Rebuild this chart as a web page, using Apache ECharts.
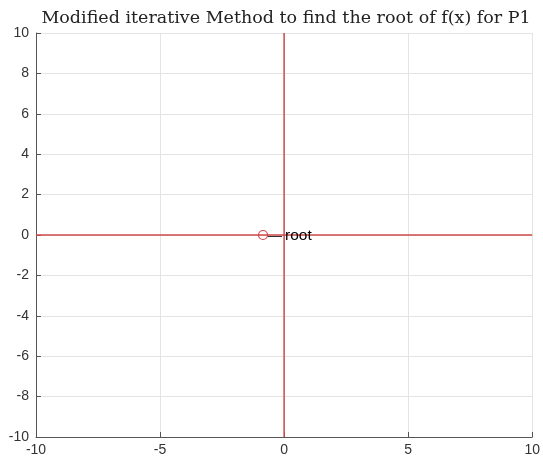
<!DOCTYPE html>
<html><head><meta charset="utf-8">
<script src="https://cdn.jsdelivr.net/npm/echarts@6/dist/echarts.min.js"></script>
<style>html,body{margin:0;padding:0;background:#fff}#c{width:543px;height:466px}</style>
</head><body><div id="c"></div>
<script>
const titleText = 'Modified iterative Method to find the root of f(x) for P1';
const xTicks = [-10, -5, 0, 5, 10];
const yTicks = [-10, -8, -6, -4, -2, 0, 2, 4, 6, 8, 10];
const horizLine = [[-10, 0], [10, 0]];
const vertLine = [[0, -10], [0, 10]];
const rootPoint = [[-0.85, 0]];
const rootLabel = '{a|\u2014}{b|root}';

const chart = echarts.init(document.getElementById('c'));
chart.setOption({
  animation: false,
  title: {text: titleText, left: 281, top: 4, textAlign: 'center',
    textStyle: {fontFamily: 'DejaVu Serif', fontWeight: 'normal', fontSize: 17.5, color: '#222'}},
  grid: {left: 36, right: 7, top: 33, bottom: 29, containLabel: false},
  xAxis: {type: 'value', position: 'bottom', min: xTicks[0], max: xTicks[xTicks.length-1], interval: 5,
    axisLine: {show: true, onZero: false, lineStyle: {color: '#555', width: 1}},
    axisTick: {inside: true, length: 5, lineStyle: {color: '#555'}},
    axisLabel: {fontFamily: 'Liberation Sans', fontSize: 14, color: '#333', margin: 6},
    splitLine: {lineStyle: {color: '#e4e4e4'}}},
  yAxis: {type: 'value', position: 'left', min: yTicks[0], max: yTicks[yTicks.length-1], interval: 2,
    axisLine: {show: true, onZero: false, lineStyle: {color: '#555', width: 1}},
    axisTick: {show: true, inside: true, length: 5, lineStyle: {color: '#555'}},
    axisLabel: {fontFamily: 'Liberation Sans', fontSize: 14, color: '#333', margin: 7},
    splitLine: {lineStyle: {color: '#e4e4e4'}}},
  series: [
    {type: 'line', data: horizLine, symbol: 'none', z: 5, lineStyle: {color: '#d04a4a', width: 1.5}},
    {type: 'line', data: vertLine, symbol: 'none', z: 5, lineStyle: {color: '#d04a4a', width: 1.5}},
    {type: 'scatter', data: rootPoint, symbol: 'circle', symbolSize: 9, z: 6,
      itemStyle: {color: 'rgba(0,0,0,0)', borderColor: '#d04545', borderWidth: 1.2, opacity: 1},
      label: {show: true, formatter: rootLabel, position: 'inside', align: 'left', offset: [5, 1],
        rich: {a: {fontFamily: 'Liberation Sans', fontSize: 14, color: '#333', padding: [0, 3, 0, 0]},
               b: {fontFamily: 'Liberation Sans', fontSize: 15.5, color: '#000'}}}}
  ]
});
</script></body></html>
